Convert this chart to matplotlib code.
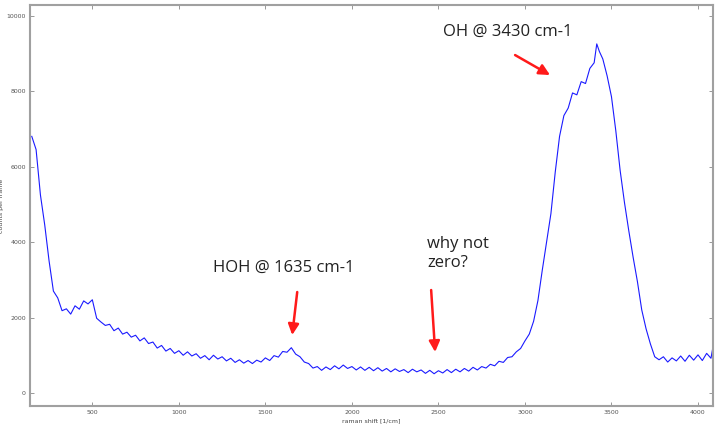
import numpy as np
import matplotlib
matplotlib.use("Agg")
import matplotlib.pyplot as plt

# raman spectrum of water
shift = [150, 175, 200, 225, 250, 275, 300, 325, 350, 375, 400, 425, 450, 475, 500,
         525, 550, 575, 600, 625, 650, 675, 700, 725, 750, 775, 800, 825, 850, 875,
         900, 925, 950, 975, 1000, 1025, 1050, 1075, 1100, 1125, 1150, 1175, 1200,
         1225, 1250, 1275, 1300, 1325, 1350, 1375, 1400, 1425, 1450, 1475, 1500,
         1525, 1550, 1575, 1600, 1625, 1650, 1675, 1700, 1725, 1750, 1775, 1800,
         1825, 1850, 1875, 1900, 1925, 1950, 1975, 2000, 2025, 2050, 2075, 2100,
         2125, 2150, 2175, 2200, 2225, 2250, 2275, 2300, 2325, 2350, 2375, 2400,
         2425, 2450, 2475, 2500, 2525, 2550, 2575, 2600, 2625, 2650, 2675, 2700,
         2725, 2750, 2775, 2800, 2825, 2850, 2875, 2900, 2925, 2950, 2975, 3000,
         3025, 3050, 3075, 3100, 3125, 3150, 3175, 3200, 3225, 3250, 3275, 3300,
         3325, 3350, 3375, 3400, 3415, 3430, 3450, 3475, 3500, 3525, 3550, 3575,
         3600, 3625, 3650, 3675, 3700, 3725, 3750, 3775, 3800, 3825, 3850, 3875,
         3900, 3925, 3950, 3975, 4000, 4025, 4050, 4075, 4085]
counts = [6800, 6450, 5250, 4450, 3500, 2700, 2520, 2180, 2230, 2090, 2310, 2220, 2440, 2360, 2470,
          1980, 1880, 1790, 1820, 1650, 1720, 1560, 1610, 1480, 1530, 1380, 1460, 1310, 1350, 1190,
          1260, 1110, 1180, 1050, 1120, 1000, 1090, 980, 1040, 920, 990, 880, 1000,
          900, 960, 850, 920, 810, 880, 790, 860, 780, 870, 820, 930,
          860, 990, 950, 1100, 1080, 1200, 1030, 960, 820, 780, 660, 700,
          600, 690, 620, 720, 640, 740, 650, 700, 610, 690, 600, 680,
          590, 670, 580, 650, 560, 640, 570, 620, 540, 630, 560, 610,
          520, 600, 510, 590, 530, 620, 540, 630, 560, 650, 580, 680,
          610, 700, 660, 760, 720, 840, 810, 940, 960, 1090, 1180, 1380,
          1560, 1900, 2450, 3250, 4000, 4750, 5850, 6800, 7350, 7550, 7950, 7900,
          8250, 8200, 8600, 8750, 9250, 9050, 8850, 8400, 7850, 6950, 5900, 5050,
          4300, 3600, 2950, 2200, 1700, 1300, 960, 880, 960, 820, 930, 850,
          980, 840, 1000, 870, 1010, 860, 1050, 920, 1180]

fig = plt.figure(figsize=(7.22, 4.25), dpi=100)
ax = fig.add_axes([0.0416, 0.0447, 0.946, 0.9435])

ax.plot(shift, counts, color='#1a1aff', lw=0.8)

ax.set_xlim(140, 4087)
ax.set_ylim(-345, 10280)
ax.set_xticks([500, 1000, 1500, 2000, 2500, 3000, 3500, 4000])
ax.set_yticks([0, 2000, 4000, 6000, 8000, 10000])

for s in ax.spines.values():
    s.set_color('#a0a0a0')
    s.set_linewidth(1.5)
ax.tick_params(direction='in', top=True, right=True, length=3, width=0.6,
               colors='#888888', labelsize=4.5, labelcolor='#555555', pad=3)

ax.set_xlabel('raman shift [1/cm]', fontsize=4.5, color='#444444', labelpad=2)
ax.set_ylabel('counts per frame', fontsize=4.5, color='#444444', labelpad=2)

arrow = dict(arrowstyle='-|>', color='#ff1a1a', lw=1.8, mutation_scale=16,
             shrinkA=0, shrinkB=0)
txt = dict(fontsize=12, family='Open Sans', color='#222222')

ax.text(2527, 9563, 'OH @ 3430 cm-1', va='center', ha='left', **txt)
ax.annotate('', xy=(3145, 8424), xytext=(2943, 8954), arrowprops=arrow)

ax.text(1199, 3311, 'HOH @ 1635 cm-1', va='center', ha='left', **txt)
ax.annotate('', xy=(1655, 1536), xytext=(1684, 2675), arrowprops=arrow)

ax.text(2435, 4150, 'why not\nzero?', va='top', ha='left', linespacing=1.2, **txt)
ax.annotate('', xy=(2481, 1086), xytext=(2458, 2728), arrowprops=arrow)

fig.savefig('out.png', dpi=100)
